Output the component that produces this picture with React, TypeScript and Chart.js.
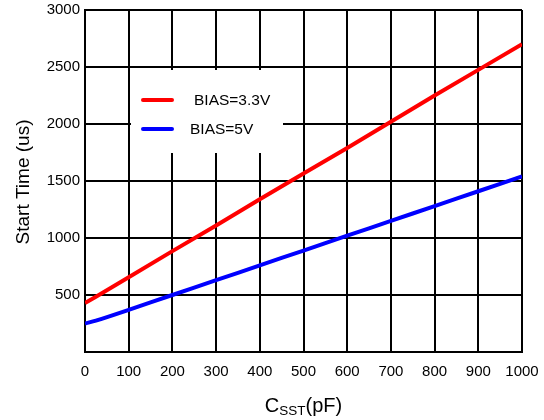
import React, { useEffect, useRef } from "react";
import { Chart, registerables } from "chart.js";

Chart.register(...registerables);

const xValues = [0, 25, 100, 200, 300, 400, 500, 600, 700, 800, 900, 1000];
const bias33 = [430, 485, 655, 885, 1110, 1340, 1565, 1790, 2020, 2250, 2475, 2700];
const bias5 = [250, 275, 370, 500, 630, 760, 890, 1020, 1150, 1280, 1410, 1540];
const seriesLabels = ["BIAS=3.3V", "BIAS=5V"];
const seriesColors = ["#ff0000", "#0000ff"];
const yTitle = "Start Time (us)";

const FONT = "'Liberation Sans', Arial, sans-serif";

const overlayPlugin = {
  id: "overlay",
  afterDatasetsDraw(chart: any) {
    const ctx = chart.ctx;
    ctx.save();
    // legend box
    ctx.fillStyle = "#ffffff";
    ctx.fillRect(131, 70, 152, 83);
    const items = [
      { y: 100, tx: 194 },
      { y: 129, tx: 190 },
    ];
    items.forEach((it, i) => {
      ctx.strokeStyle = seriesColors[i];
      ctx.lineWidth = 4;
      ctx.lineCap = "round";
      ctx.beginPath();
      ctx.moveTo(143, it.y);
      ctx.lineTo(172, it.y);
      ctx.stroke();
      ctx.fillStyle = "#000";
      ctx.font = `15.5px ${FONT}`;
      ctx.textBaseline = "middle";
      ctx.textAlign = "left";
      ctx.fillText(seriesLabels[i], it.tx, it.y + 1);
    });
    // x title with subscript
    const parts = [
      { t: "C", size: 20, dy: 0 },
      { t: "SST", size: 13.5, dy: 3 },
      { t: "(pF)", size: 20, dy: 0 },
    ];
    let total = 0;
    parts.forEach((p) => {
      ctx.font = `${p.size}px ${FONT}`;
      total += ctx.measureText(p.t).width;
    });
    const ca = chart.chartArea;
    let x = (ca.left + ca.right) / 2 - total / 2;
    ctx.textBaseline = "alphabetic";
    parts.forEach((p) => {
      ctx.font = `${p.size}px ${FONT}`;
      ctx.fillText(p.t, x, 412 + p.dy);
      x += ctx.measureText(p.t).width;
    });
    // y title
    ctx.translate(24, 182);
    ctx.rotate(-Math.PI / 2);
    ctx.font = `19px ${FONT}`;
    ctx.textAlign = "center";
    ctx.textBaseline = "middle";
    ctx.fillText(yTitle, 0, 0);
    ctx.restore();
  },
};

export default function App() {
  const ref = useRef<HTMLCanvasElement>(null);
  useEffect(() => {
    document.body.style.margin = "0";
    const toPts = (arr: number[]) => arr.map((v, i) => ({ x: xValues[i], y: v }));
    const chart = new Chart(ref.current!, {
      type: "line",
      data: {
        datasets: [
          {
            label: seriesLabels[0],
            data: toPts(bias33),
            borderColor: seriesColors[0],
            borderWidth: 4,
            pointRadius: 0,
            tension: 0,
          },
          {
            label: seriesLabels[1],
            data: toPts(bias5),
            borderColor: seriesColors[1],
            borderWidth: 4,
            pointRadius: 0,
            tension: 0.3,
          },
        ],
      },
      options: {
        responsive: false,
        animation: false,
        layout: { padding: { top: 10, right: 22, left: 0, bottom: 0 } },
        plugins: { legend: { display: false }, tooltip: { enabled: false } },
        scales: {
          x: {
            type: "linear",
            min: 0,
            max: 1000,
            ticks: {
              stepSize: 100,
              color: "#000",
              font: { family: FONT, size: 15 },
              padding: 11,
              maxRotation: 0,
              callback: (v: any) => String(v),
            },
            grid: { color: "#000", lineWidth: 2, drawTicks: false },
            border: { color: "#000", width: 2 },
            afterFit: (s: any) => {
              s.height = 68;
              s.paddingLeft = 0;
              s.paddingRight = 0;
            },
          },
          y: {
            min: 0,
            max: 3000,
            ticks: {
              stepSize: 500,
              color: "#000",
              font: { family: FONT, size: 15 },
              padding: 5,
              callback: (v: any) => (v === 0 ? "" : String(v)),
            },
            grid: { color: "#000", lineWidth: 2, drawTicks: false },
            border: { color: "#000", width: 2 },
            afterFit: (s: any) => {
              s.width = 85;
              s.paddingTop = 0;
              s.paddingBottom = 0;
            },
          },
        },
      },
      plugins: [overlayPlugin],
    });
    return () => chart.destroy();
  }, []);
  return (
    <div style={{ width: 544, height: 420 }}>
      <canvas ref={ref} width={544} height={420} />
    </div>
  );
}
